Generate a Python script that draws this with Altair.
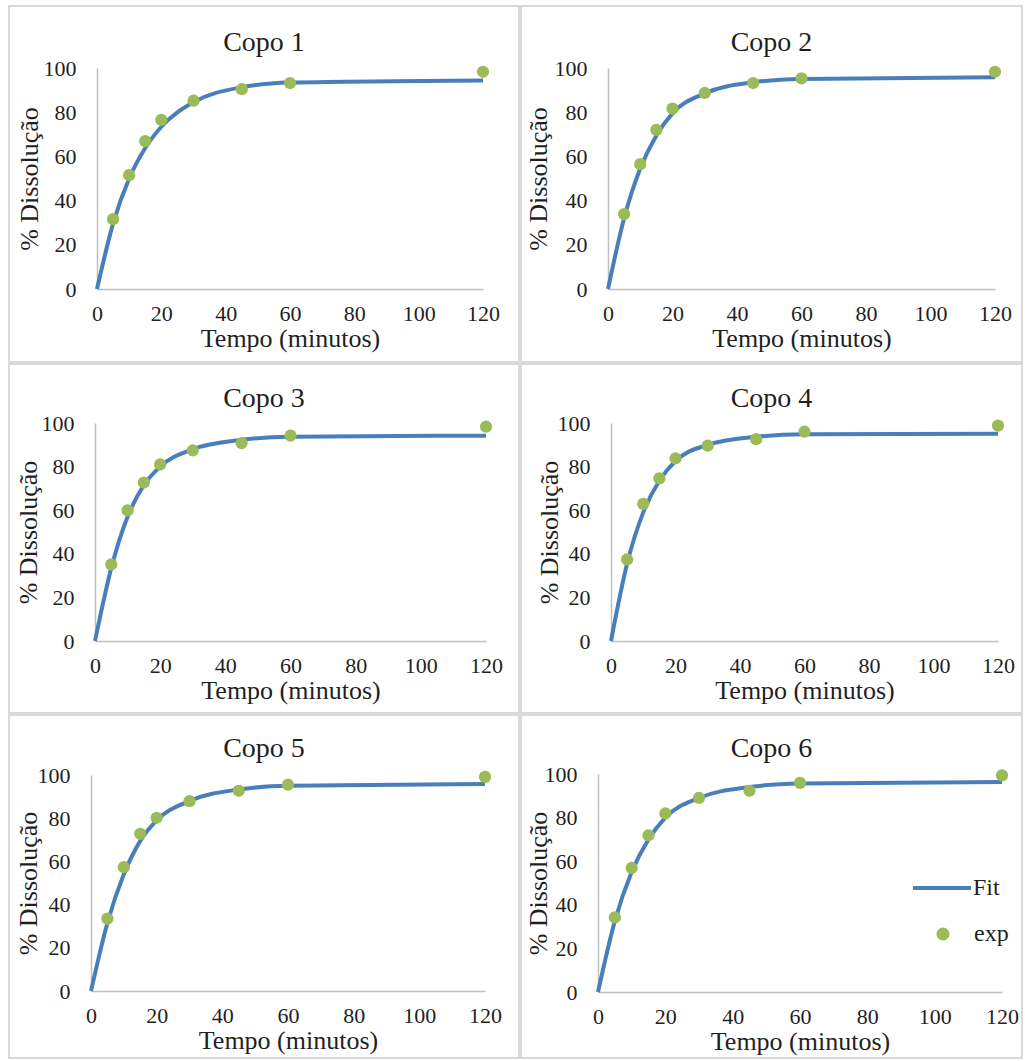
import altair as alt
import pandas as pd

# Sampling times (minutes) of the dissolution test
TIME = [5, 10, 15, 20, 30, 45, 60, 120]
FIT_TIME = [0, 5, 10, 15, 20, 30, 45, 60, 120]
X_TICKS = [0, 20, 40, 60, 80, 100, 120]
Y_TICKS = [0, 20, 40, 60, 80, 100]

# Measured % dissolved for each vessel
EXP_1 = [31.6, 51.5, 66.9, 76.5, 85.2, 90.4, 93.2, 98.3]
EXP_2 = [33.9, 56.5, 72.0, 81.6, 88.7, 93.2, 95.3, 98.3]
EXP_3 = [35.1, 59.9, 72.7, 81.0, 87.4, 90.8, 94.2, 98.3]
EXP_4 = [37.4, 62.9, 74.6, 83.8, 89.6, 92.6, 96.0, 98.8]
EXP_5 = [33.5, 57.3, 72.8, 80.2, 87.9, 92.7, 95.5, 99.1]
EXP_6 = [34.2, 56.9, 71.9, 81.9, 89.0, 92.3, 95.9, 99.4]

# Fitted curve values for each vessel
FIT_1 = [0, 29.6, 50.0, 63.8, 73.4, 84.5, 91.3, 93.4, 94.4]
FIT_2 = [0, 32.0, 54.5, 69.5, 79.5, 88.5, 93.5, 95.0, 95.8]
FIT_3 = [0, 33.5, 57.0, 71.5, 80.0, 88.0, 92.3, 93.7, 94.2]
FIT_4 = [0, 35.5, 59.0, 73.5, 82.5, 90.0, 93.7, 94.8, 95.1]
FIT_5 = [0, 31.5, 54.0, 69.5, 79.0, 88.0, 93.3, 95.0, 95.8]
FIT_6 = [0, 32.5, 55.0, 70.0, 80.0, 89.0, 94.0, 95.6, 96.3]

TITLES = ["Copo 1", "Copo 2", "Copo 3", "Copo 4", "Copo 5", "Copo 6"]

BLUE = "#4a7ebb"
GREEN = "#9bbb59"
FONT = "Liberation Serif"
TEXT = "#1f1f1f"


def panel(title, exp, fit, w, h, xr, yr, title_y, ytitle_pad, legend=False):
    exp_df = pd.DataFrame({"t": TIME, "v": exp, "exp_serie": "exp"})
    fit_df = pd.DataFrame({"t": FIT_TIME, "v": fit, "fit_serie": "Fit"})

    x_enc = alt.X(
        "t:Q",
        scale=alt.Scale(domain=[0, 120], range=list(xr), nice=False, zero=False),
        axis=alt.Axis(
            values=X_TICKS, offset=-(h - yr[0]), grid=False, ticks=False,
            domainColor="#bfbfbf", domainWidth=1.5,
            labelFlush=False, labelOverlap=False,
            labelFont=FONT, labelFontSize=22, labelColor=TEXT, labelPadding=14,
            titleFont=FONT, titleFontSize=26, titleFontWeight="normal",
            titleColor=TEXT, titlePadding=1,
        ),
        title="Tempo (minutos)",
    )
    y_enc = alt.Y(
        "v:Q",
        scale=alt.Scale(domain=[0, 100], range=list(yr), nice=False),
        axis=alt.Axis(
            values=Y_TICKS, offset=-xr[0], grid=False, ticks=False,
            domainColor="#bfbfbf", domainWidth=1.5,
            labelFlush=False, labelOverlap=False,
            labelFont=FONT, labelFontSize=22, labelColor=TEXT, labelPadding=21,
            titleFont=FONT, titleFontSize=26, titleFontWeight="normal",
            titleColor=TEXT, titlePadding=ytitle_pad,
        ),
        title="% Dissolução",
    )

    line = alt.Chart(fit_df).mark_line(
        strokeWidth=4, interpolate="monotone", color=BLUE
    ).encode(x=x_enc, y=y_enc)
    pts = alt.Chart(exp_df).mark_circle(
        size=150, opacity=1, color=GREEN
    ).encode(x=x_enc, y=y_enc)

    if legend:
        line = line.encode(
            color=alt.Color(
                "fit_serie:N",
                scale=alt.Scale(domain=["Fit"], range=[BLUE]),
                legend=alt.Legend(
                    title=None, orient="none", legendX=390, legendY=142,
                    symbolType="stroke", symbolSize=3364, symbolStrokeWidth=4,
                    labelFont=FONT, labelFontSize=24, labelColor=TEXT,
                    labelOffset=0, padding=0,
                ),
            )
        )
        pts = pts.encode(
            fill=alt.Fill(
                "exp_serie:N",
                scale=alt.Scale(domain=["exp"], range=[GREEN]),
                legend=alt.Legend(
                    title=None, orient="none", legendX=410, legendY=207,
                    symbolType="circle", symbolSize=170, symbolStrokeWidth=0,
                    labelFont=FONT, labelFontSize=24, labelColor=TEXT,
                    labelOffset=19, padding=0,
                ),
            )
        )

    return alt.layer(line, pts).properties(
        width=w,
        height=h,
        title=alt.TitleParams(
            text=title, font=FONT, fontSize=28, fontWeight="normal",
            color=TEXT, anchor="middle", frame="group",
            baseline="alphabetic", offset=-(title_y + 26),
        ),
    )


p1 = panel(TITLES[0], EXP_1, FIT_1, 510, 356, (88, 474), (283, 62), 47, 0.5)
p2 = panel(TITLES[1], EXP_2, FIT_2, 501, 356, (87, 474), (283, 62), 47, 2.5)
p3 = panel(TITLES[2], EXP_3, FIT_3, 510, 349, (86, 477), (277, 59), 45, -0.5)
p4 = panel(TITLES[3], EXP_4, FIT_4, 501, 349, (90, 477), (277, 59), 45, -5.5)
p5 = panel(TITLES[4], EXP_5, FIT_5, 510, 343, (82, 476), (276, 60), 44, -4.5)
p6 = panel(TITLES[5], EXP_6, FIT_6, 501, 343, (77, 481), (277, 59), 44, -7.5, legend=True)

row1 = alt.hconcat(p1, p2, spacing=0)
row2 = alt.hconcat(p3, p4, spacing=0)
row3 = alt.hconcat(p5, p6, spacing=0).resolve_scale(color="independent", fill="independent")

chart = (
    alt.vconcat(row1, row2, row3, spacing=0)
    .resolve_scale(color="independent", fill="independent")
    .properties(padding={"left": 8, "top": 5, "right": 0, "bottom": 0}, background="white")
    .configure_view(stroke="#d9d9d9", strokeWidth=2)
    .configure_axis(labelFont=FONT, titleFont=FONT)
)

chart.save("out.html", embed_options={"renderer": "svg", "actions": False})
